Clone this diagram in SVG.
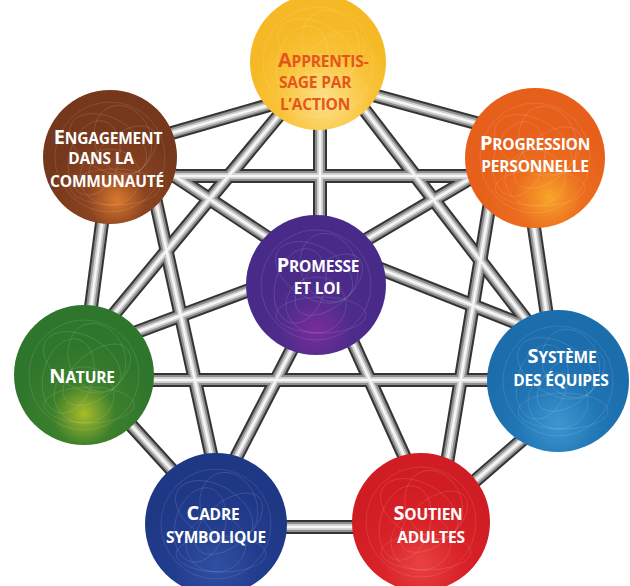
<svg xmlns="http://www.w3.org/2000/svg" xmlns:xlink="http://www.w3.org/1999/xlink" width="630" height="586" viewBox="0 0 630 586">
<style>
.tube-dark{stroke:#343434;stroke-width:14;fill:none}
.tube-mid{stroke:#8e8e8e;stroke-width:10;fill:none}
.tube-light{stroke:#cdcdcd;stroke-width:6;fill:none}
.tube-hi{stroke:#f6f6f6;stroke-width:2.5;fill:none}
.lbl{font-family:"Open Sans","Liberation Sans",sans-serif;font-weight:700;font-size:15.5px;fill:#ffffff;letter-spacing:-0.2px}
.big{font-size:20px}
.orange{fill:#E4561C}
.tex{fill:none;stroke:#ffffff;stroke-opacity:0.16;stroke-width:0.7}
</style>
<defs>
<radialGradient id="gA" cx="0.55" cy="0.78" r="0.55"><stop offset="0" stop-color="#FDE08A"/><stop offset="0.6" stop-color="#F9C43A"/><stop offset="1" stop-color="#F5B925"/></radialGradient>
<radialGradient id="gE" cx="0.55" cy="0.82" r="0.5"><stop offset="0" stop-color="#D9782E"/><stop offset="0.45" stop-color="#8A4320"/><stop offset="1" stop-color="#76381C"/></radialGradient>
<radialGradient id="gP" cx="0.6" cy="0.78" r="0.5"><stop offset="0" stop-color="#F8A52A"/><stop offset="0.5" stop-color="#EC6C1F"/><stop offset="1" stop-color="#E6601B"/></radialGradient>
<radialGradient id="gPr" cx="0.5" cy="0.82" r="0.5"><stop offset="0" stop-color="#7A2C9C"/><stop offset="0.5" stop-color="#4E2C8C"/><stop offset="1" stop-color="#482A88"/></radialGradient>
<radialGradient id="gN" cx="0.5" cy="0.78" r="0.5"><stop offset="0" stop-color="#A8BC2A"/><stop offset="0.45" stop-color="#3C7F2C"/><stop offset="1" stop-color="#2E762C"/></radialGradient>
<radialGradient id="gS" cx="0.5" cy="0.8" r="0.55"><stop offset="0" stop-color="#3D97D0"/><stop offset="0.55" stop-color="#2075B4"/><stop offset="1" stop-color="#1C6DAC"/></radialGradient>
<radialGradient id="gC" cx="0.5" cy="0.8" r="0.55"><stop offset="0" stop-color="#2F4FA2"/><stop offset="0.55" stop-color="#233D8E"/><stop offset="1" stop-color="#1F3886"/></radialGradient>
<radialGradient id="gSo" cx="0.5" cy="0.8" r="0.55"><stop offset="0" stop-color="#E94242"/><stop offset="0.55" stop-color="#D82227"/><stop offset="1" stop-color="#D01D23"/></radialGradient>
<g id="tex" class="tex">
<ellipse cx="-8" cy="-10" rx="42" ry="26" transform="rotate(30)"/>
<ellipse cx="10" cy="8" rx="40" ry="22" transform="rotate(-40)"/>
<ellipse cx="0" cy="20" rx="30" ry="28"/>
<ellipse cx="-15" cy="5" rx="25" ry="38" transform="rotate(15)"/>
<ellipse cx="18" cy="-12" rx="28" ry="35" transform="rotate(-20)"/>
<circle cx="0" cy="0" r="55"/>
<ellipse cx="5" cy="30" rx="45" ry="18"/>
</g>
</defs>

<g id="connectors">
<g class="tube-dark">
<g id="net">
<line x1="340" y1="86" x2="520" y2="135"/>
<line x1="130" y1="145" x2="290" y2="99"/>
<line x1="150" y1="176" x2="500" y2="176"/>
<line x1="320" y1="100" x2="320" y2="250"/>
<line x1="290" y1="102" x2="100" y2="331"/>
<line x1="360" y1="104" x2="530" y2="325"/>
<line x1="140" y1="153" x2="330" y2="279"/>
<line x1="150" y1="175" x2="215" y2="472"/>
<line x1="105" y1="200" x2="88" y2="330"/>
<line x1="300" y1="271" x2="110" y2="342"/>
<line x1="330" y1="261" x2="510" y2="155"/>
<line x1="330" y1="249" x2="540" y2="332"/>
<line x1="310" y1="314" x2="225" y2="479"/>
<line x1="330" y1="292" x2="415" y2="480"/>
<line x1="492" y1="190" x2="445" y2="475"/>
<line x1="530" y1="200" x2="552" y2="350"/>
<line x1="120" y1="380" x2="520" y2="380"/>
<line x1="110" y1="402" x2="190" y2="490"/>
<line x1="250" y1="527" x2="390" y2="527"/>
<line x1="430" y1="520" x2="545" y2="420"/>
</g>
</g>
<g class="tube-mid"><use href="#net"/></g>
<g class="tube-light"><use href="#net"/></g>
<g class="tube-hi"><use href="#net"/></g>
</g>

<g id="node-apprentissage">
<circle cx="318" cy="62" r="68" fill="url(#gA)"/>
<use href="#tex" x="318" y="62"/>
<text class="lbl orange" x="278" y="67"><tspan class="big">A</tspan>PPRENTIS-</text>
<text class="lbl orange" x="279" y="88">SAGE PAR</text>
<text class="lbl orange" x="280" y="110">L’ACTION</text>
</g>

<g id="node-engagement">
<circle cx="110" cy="157" r="67" fill="url(#gE)"/>
<use href="#tex" x="110" y="157"/>
<text class="lbl" x="108" y="144" text-anchor="middle"><tspan class="big">E</tspan>NGAGEMENT</text>
<text class="lbl" x="101" y="164" text-anchor="middle">DANS LA</text>
<text class="lbl" x="107" y="187" text-anchor="middle">COMMUNAUTÉ</text>
</g>

<g id="node-progression">
<circle cx="535" cy="158" r="70" fill="url(#gP)"/>
<use href="#tex" x="535" y="158"/>
<text class="lbl" x="535" y="150" text-anchor="middle"><tspan class="big">P</tspan>ROGRESSION</text>
<text class="lbl" x="535" y="172" text-anchor="middle">PERSONNELLE</text>
</g>

<g id="node-promesse">
<circle cx="316" cy="285" r="70" fill="url(#gPr)"/>
<use href="#tex" x="316" y="285"/>
<text class="lbl" x="318" y="272" text-anchor="middle"><tspan class="big">P</tspan>ROMESSE</text>
<text class="lbl" x="317" y="294" text-anchor="middle">ET LOI</text>
</g>

<g id="node-nature">
<circle cx="84" cy="375" r="70" fill="url(#gN)"/>
<use href="#tex" x="84" y="375"/>
<text class="lbl" x="82" y="383" text-anchor="middle"><tspan class="big">N</tspan>ATURE</text>
</g>

<g id="node-systeme">
<circle cx="558" cy="381" r="71" fill="url(#gS)"/>
<use href="#tex" x="558" y="381"/>
<text class="lbl" x="562" y="363" text-anchor="middle"><tspan class="big">S</tspan>YSTÈME</text>
<text class="lbl" x="561" y="386" text-anchor="middle">DES ÉQUIPES</text>
</g>

<g id="node-cadre">
<circle cx="216" cy="524" r="71" fill="url(#gC)"/>
<use href="#tex" x="216" y="524"/>
<text class="lbl" x="213" y="520" text-anchor="middle"><tspan class="big">C</tspan>ADRE</text>
<text class="lbl" x="216" y="543" text-anchor="middle">SYMBOLIQUE</text>
</g>

<g id="node-soutien">
<circle cx="421" cy="522" r="69" fill="url(#gSo)"/>
<use href="#tex" x="421" y="522"/>
<text class="lbl" x="428" y="520" text-anchor="middle"><tspan class="big">S</tspan>OUTIEN</text>
<text class="lbl" x="431" y="543" text-anchor="middle">ADULTES</text>
</g>
</svg>
